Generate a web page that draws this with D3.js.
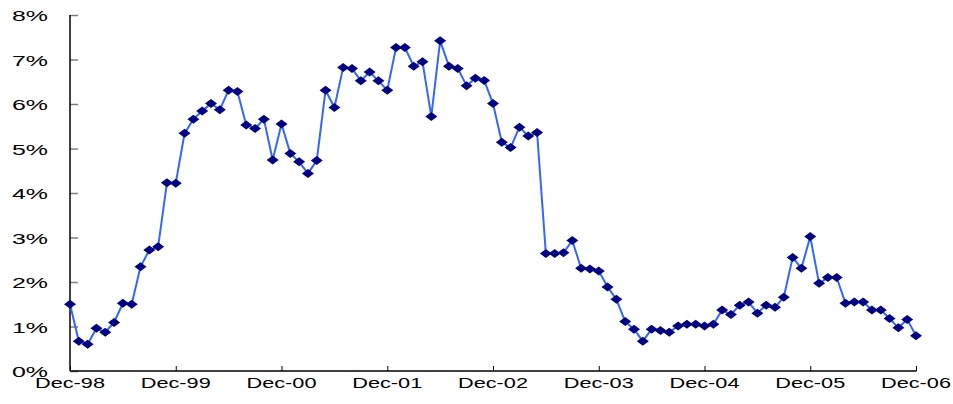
<!DOCTYPE html>
<html>
<head>
<meta charset="utf-8">
<script src="https://cdn.jsdelivr.net/npm/d3@7"></script>
<style>
  html, body { margin: 0; padding: 0; background: #fff; }
  svg { display: block; }
  text { font-family: "Liberation Sans", Arial, sans-serif; fill: #000; }
</style>
</head>
<body>
<svg id="chart" width="953" height="404"></svg>
<script>
// Monthly rate, Dec-98 through Dec-06 (percent)
const values = [
  1.50, 0.67, 0.60, 0.96, 0.87, 1.09, 1.52, 1.50, 2.34, 2.72, 2.79, 4.23,
  4.22, 5.34, 5.66, 5.84, 6.01, 5.87, 6.31, 6.28, 5.53, 5.45, 5.66, 4.74,
  5.55, 4.89, 4.70, 4.44, 4.73, 6.31, 5.92, 6.82, 6.80, 6.52, 6.72, 6.52,
  6.31, 7.27, 7.27, 6.85, 6.95, 5.72, 7.42, 6.85, 6.80, 6.41, 6.58, 6.53,
  6.01, 5.14, 5.02, 5.48, 5.28, 5.36, 2.64, 2.64, 2.66, 2.93, 2.31, 2.29,
  2.25, 1.89, 1.61, 1.11, 0.94, 0.67, 0.94, 0.91, 0.87, 1.01, 1.05, 1.05,
  1.01, 1.05, 1.37, 1.27, 1.48, 1.55, 1.30, 1.48, 1.43, 1.66, 2.55, 2.31,
  3.02, 1.97, 2.10, 2.10, 1.52, 1.55, 1.55, 1.37, 1.37, 1.18, 0.97, 1.16,
  0.79
];
const yearLabels = ["Dec-98", "Dec-99", "Dec-00", "Dec-01", "Dec-02", "Dec-03", "Dec-04", "Dec-05", "Dec-06"];
const yTicks = [0, 1, 2, 3, 4, 5, 6, 7, 8];

const svg = d3.select("#chart");
const plot = { left: 70, right: 916, top: 15, bottom: 371 };

const x = d3.scaleLinear().domain([0, values.length - 1]).range([plot.left, plot.right]);
const y = d3.scaleLinear().domain([0, 8]).range([plot.bottom, plot.top]);

// Y axis: ticks pointing into the plot
const yAxis = svg.append("g").attr("transform", `translate(${plot.left},0)`)
  .call(d3.axisRight(y).tickValues(yTicks).tickSize(8).tickFormat(""));
yAxis.select(".domain").remove();
yAxis.selectAll(".tick line").attr("stroke", "#808080").attr("stroke-width", 1.5);
svg.append("line")
  .attr("x1", plot.left).attr("x2", plot.left)
  .attr("y1", y(8)).attr("y2", y(0))
  .attr("stroke", "#000").attr("stroke-width", 1.5);

svg.append("g").selectAll("text").data(yTicks).join("text")
  .attr("x", 48).attr("y", d => y(d) + 6)
  .attr("text-anchor", "end")
  .attr("font-size", 14)
  .attr("textLength", 36).attr("lengthAdjust", "spacingAndGlyphs")
  .text(d => d + "%");

// X axis: one tick per December
const xAxis = svg.append("g").attr("transform", `translate(0,${plot.bottom})`)
  .call(d3.axisTop(x).tickValues(yearLabels.map((_, i) => i * 12)).tickSize(5).tickFormat(""));
xAxis.select(".domain").remove();
xAxis.selectAll(".tick line").attr("stroke", "#000").attr("stroke-width", 1);
svg.append("line")
  .attr("x1", plot.left).attr("x2", plot.right + 0.5)
  .attr("y1", plot.bottom).attr("y2", plot.bottom)
  .attr("stroke", "#000").attr("stroke-width", 1.5);

svg.append("g").selectAll("text").data(yearLabels).join("text")
  .attr("x", (d, i) => x(i * 12)).attr("y", 388)
  .attr("text-anchor", "middle")
  .attr("font-size", 14.5)
  .attr("textLength", 70).attr("lengthAdjust", "spacingAndGlyphs")
  .text(d => d);

// Series line
const line = d3.line().x((d, i) => x(i)).y(d => y(d));
svg.append("path").datum(values)
  .attr("d", line)
  .attr("fill", "none")
  .attr("stroke", "#3366ff")
  .attr("stroke-width", 2);

// Diamond markers
svg.append("g").selectAll("path").data(values).join("path")
  .attr("transform", (d, i) => `translate(${x(i)},${y(d)})`)
  .attr("d", "M0,-4.5L6,0L0,4.5L-6,0Z")
  .attr("fill", "#000080");
</script>
</body>
</html>
